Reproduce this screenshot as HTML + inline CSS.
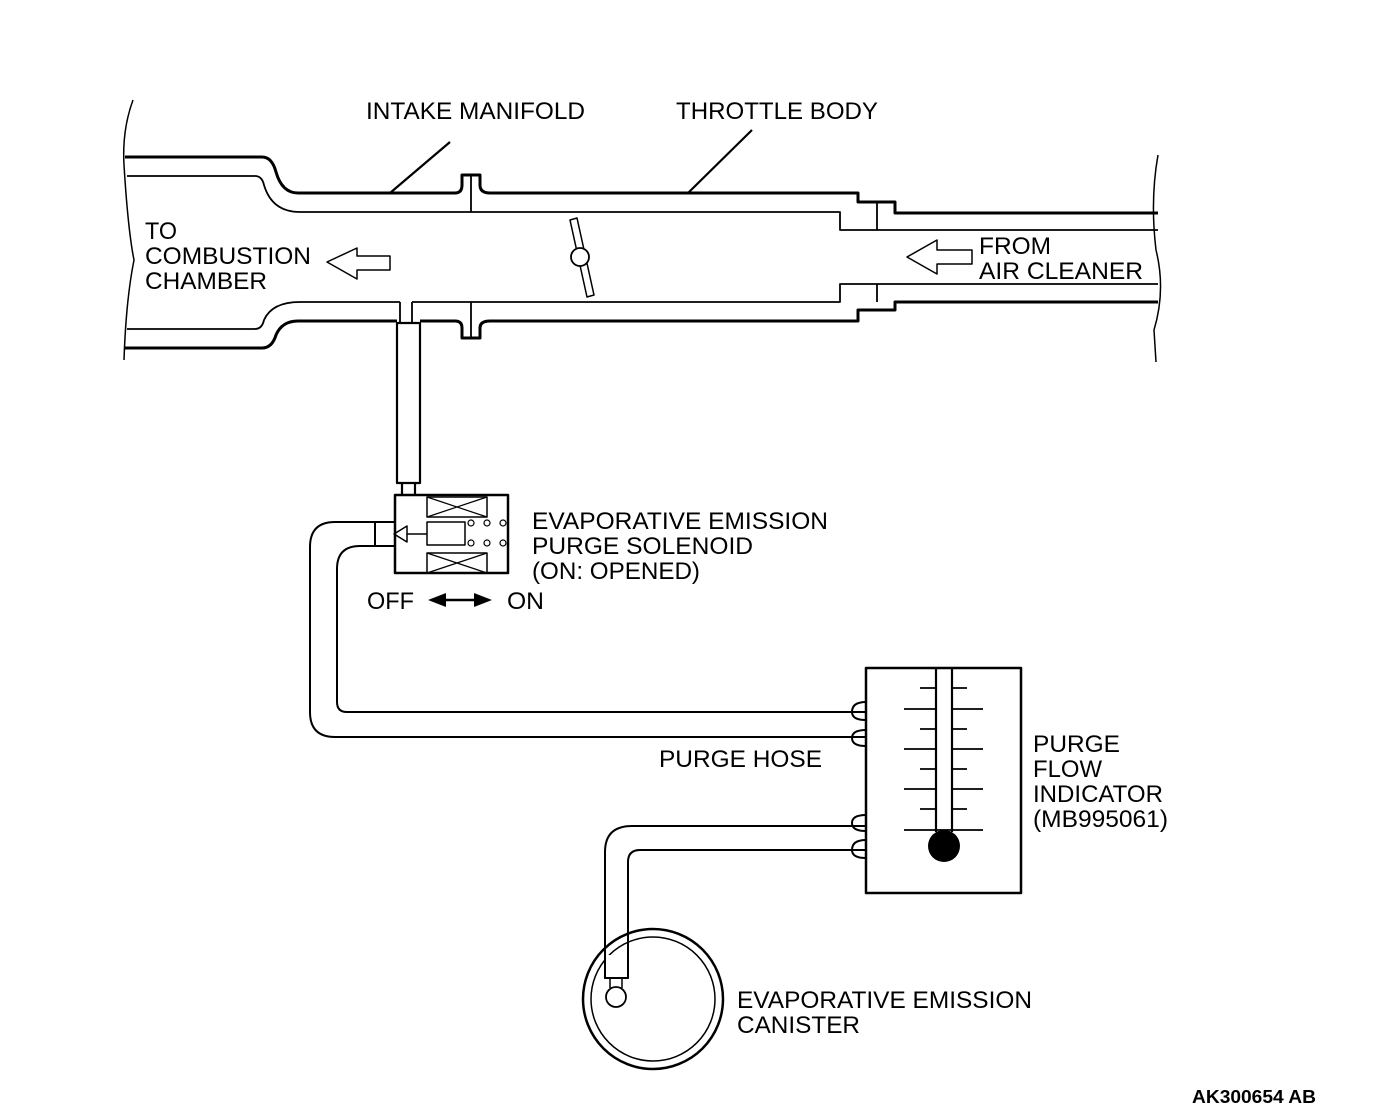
<!DOCTYPE html>
<html><head><meta charset="utf-8"><style>
html,body{margin:0;padding:0;background:#fff;}
svg{display:block;}
text{font-family:"Liberation Sans",Arial,sans-serif;font-size:24px;fill:#000;}
</style></head><body>
<svg width="1392" height="1118" viewBox="0 0 1392 1118" xmlns="http://www.w3.org/2000/svg">
<g fill="none" stroke="#000" stroke-linejoin="round">
<path d="M133 100 Q122 130 124 165 Q128 230 134 260 Q126 300 124 360" stroke-width="1.5"/>
<path d="M1158 155 Q1150 200 1156 250 Q1166 290 1154 330 L1156 362" stroke-width="1.5"/>
<path d="M125 157 L262 157 Q272 157 276 172 Q282 193 298 193 L455 193 Q462 193 462 185 L462 175 L480 175 L480 185 Q480 193 490 193 L858 193 L858 202 L895 202 L895 213 L1158 213" stroke-width="3"/>
<path d="M127 176 L255 176 Q262 176 264 185 Q272 212 300 212 L840 212 L840 230 L1158 230" stroke-width="1.8"/>
<path d="M877 202 L877 230" stroke-width="1.8"/>
<path d="M471 175 L471 212" stroke-width="1.8"/>
<path d="M127 329 L255 329 Q262 329 264 320 Q272 302 300 302 L400 302 M412 302 L840 302 L840 284 L1158 284" stroke-width="1.8"/>
<path d="M877 284 L877 302" stroke-width="1.8"/>
<path d="M471 302 L471 338" stroke-width="1.8"/>
<path d="M125 348 L262 348 Q272 348 276 335 Q282 321 298 321 L397 321 M420 321 L455 321 Q462 321 462 328 L462 338 L480 338 L480 328 Q480 321 490 321 L858 321 L858 310 L895 310 L895 302 L1158 302" stroke-width="3"/>
<path d="M400 302 L400 323 M412 302 L412 323" stroke-width="1.8"/>
<rect x="397" y="323" width="23" height="160" stroke-width="2.2"/>
<path d="M402 483 L402 495 M415 483 L415 495" stroke-width="2.2"/>
<path d="M450 142 L390 193" stroke-width="2.2"/>
<path d="M752 130 L688 193" stroke-width="2.2"/>
<path d="M570 220 L577 218 L594 295 L587 297 Z" stroke-width="1.5" fill="#fff"/>
<circle cx="580" cy="257" r="9" stroke-width="1.8" fill="#fff"/>
<path d="M327 262 L357 248 L357 256 L390 256 L390 270 L357 270 L357 279 Z" stroke-width="1.5"/>
<path d="M907 257 L937 240 L937 250 L972 250 L972 264 L937 264 L937 274 Z" stroke-width="1.5"/>
<rect x="395" y="495" width="113" height="78" stroke-width="2.5"/>
<rect x="427" y="497" width="60" height="20" stroke-width="1.5"/>
<path d="M427 497 L487 517 M487 497 L427 517" stroke-width="1.2"/>
<rect x="427" y="553" width="60" height="20" stroke-width="1.5"/>
<path d="M427 553 L487 573 M487 553 L427 573" stroke-width="1.2"/>
<rect x="427" y="522" width="38" height="23" stroke-width="1.5"/>
<path d="M427 534 L407 534 M407 526 L394 534 L407 542 Z" stroke-width="1.5"/>
<g stroke-width="1.2">
<circle cx="471" cy="523" r="3"/><circle cx="487" cy="523" r="3"/><circle cx="503" cy="523" r="3"/>
<circle cx="471" cy="543" r="3"/><circle cx="487" cy="543" r="3"/><circle cx="503" cy="543" r="3"/>
</g>
<path d="M395 522 L375 522 L375 546 L395 546" stroke-width="2"/>
<path d="M375 522 L335 522 Q310 522 310 547 L310 712 Q310 737 335 737 L865 737" stroke-width="2"/>
<path d="M375 546 L360 546 Q337 546 337 569 L337 702 Q337 712 347 712 L865 712" stroke-width="2"/>
<path d="M866 702 Q852 702 852 712 Q852 720 866 720 M866 730 Q852 730 852 738 Q852 746 866 746" stroke-width="2"/>
<path d="M865 826 L632 826 Q605 826 605 852 L605 978 L628 978 L628 862 Q628 850 640 850 L865 850" stroke-width="2"/>
<path d="M866 815 Q852 815 852 823 Q852 831 866 831 M866 840 Q852 840 852 850 Q852 858 866 858" stroke-width="2"/>
<rect x="866" y="668" width="155" height="225" stroke-width="2.5"/>
<path d="M936 668 L936 832 M952 668 L952 832" stroke-width="2.2"/>
<g stroke-width="1.8">
<path d="M920 688 L935 688 M953 688 L967 688"/>
<path d="M904 709 L935 709 M953 709 L983 709"/>
<path d="M920 729 L935 729 M953 729 L967 729"/>
<path d="M904 749 L935 749 M953 749 L983 749"/>
<path d="M920 769 L935 769 M953 769 L967 769"/>
<path d="M904 789 L935 789 M953 789 L983 789"/>
<path d="M920 809 L935 809 M953 809 L967 809"/>
<path d="M904 830 L983 830"/>
</g>
<circle cx="944" cy="846" r="16" fill="#000" stroke="none"/>
<circle cx="653" cy="999" r="70" stroke-width="2.5"/>
<circle cx="653" cy="999" r="62" stroke-width="1.5"/>
<path d="M610 978 L610 988 M622 978 L622 988" stroke-width="1.5"/>
<circle cx="616" cy="997" r="10" stroke-width="1.8" fill="#fff"/>
<rect x="605" y="955" width="23" height="23" fill="#fff" stroke="none"/>
<path d="M605 940 L605 978 L628 978 L628 940" stroke-width="2"/>
<path d="M446 600 L474 600" stroke-width="2.5"/>
</g>
<path d="M428 600 L446 593 L446 607 Z M492 600 L474 593 L474 607 Z" fill="#000"/>
<g lengthAdjust="spacingAndGlyphs">
<text x="366" y="119" textLength="219" lengthAdjust="spacingAndGlyphs">INTAKE MANIFOLD</text>
<text x="676" y="119" textLength="202" lengthAdjust="spacingAndGlyphs">THROTTLE BODY</text>
<text x="145" y="239" textLength="32" lengthAdjust="spacingAndGlyphs">TO</text>
<text x="145" y="264" textLength="166" lengthAdjust="spacingAndGlyphs">COMBUSTION</text>
<text x="145" y="289" textLength="122" lengthAdjust="spacingAndGlyphs">CHAMBER</text>
<text x="979" y="254" textLength="72" lengthAdjust="spacingAndGlyphs">FROM</text>
<text x="979" y="279" textLength="164" lengthAdjust="spacingAndGlyphs">AIR CLEANER</text>
<text x="532" y="529" textLength="296" lengthAdjust="spacingAndGlyphs">EVAPORATIVE EMISSION</text>
<text x="532" y="554" textLength="221" lengthAdjust="spacingAndGlyphs">PURGE SOLENOID</text>
<text x="532" y="579" textLength="168" lengthAdjust="spacingAndGlyphs">(ON: OPENED)</text>
<text x="367" y="609" textLength="47" lengthAdjust="spacingAndGlyphs">OFF</text>
<text x="507" y="609" textLength="37" lengthAdjust="spacingAndGlyphs">ON</text>
<text x="659" y="767" textLength="163" lengthAdjust="spacingAndGlyphs">PURGE HOSE</text>
<text x="1033" y="752" textLength="87" lengthAdjust="spacingAndGlyphs">PURGE</text>
<text x="1033" y="777" textLength="69" lengthAdjust="spacingAndGlyphs">FLOW</text>
<text x="1033" y="802" textLength="130" lengthAdjust="spacingAndGlyphs">INDICATOR</text>
<text x="1033" y="827" textLength="135" lengthAdjust="spacingAndGlyphs">(MB995061)</text>
<text x="737" y="1008" textLength="295" lengthAdjust="spacingAndGlyphs">EVAPORATIVE EMISSION</text>
<text x="737" y="1033" textLength="123" lengthAdjust="spacingAndGlyphs">CANISTER</text>
<text x="1192" y="1103" textLength="124" lengthAdjust="spacingAndGlyphs" style="font-size:18px;font-weight:bold">AK300654 AB</text>
</g>
</svg>
</body></html>
